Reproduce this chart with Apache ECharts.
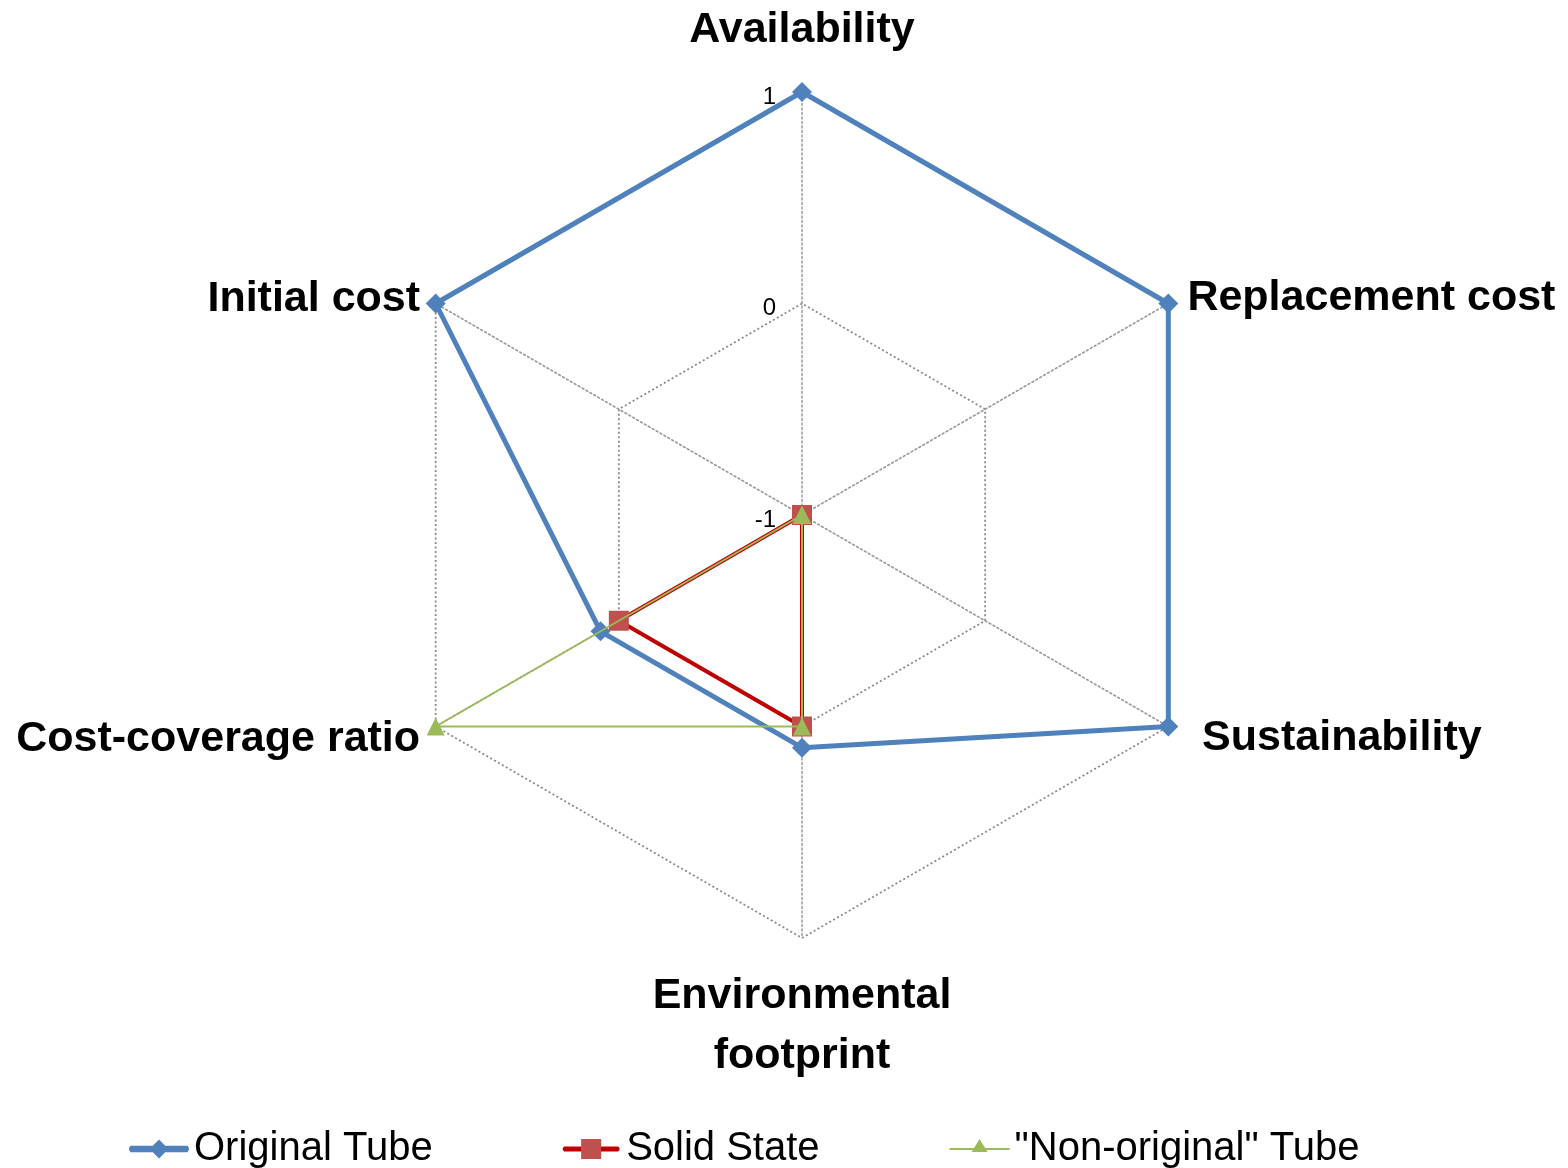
<!DOCTYPE html>
<html><head><meta charset="utf-8">
<script src="https://cdn.jsdelivr.net/npm/echarts@6/dist/echarts.min.js"></script>
<style>html,body{margin:0;padding:0;background:#fff}#c{width:1568px;height:1168px}</style>
</head><body><div id="c"></div>
<script>
// Indicators listed counter-clockwise from the top (ECharts radar order)
const indicatorNames = ['Availability', 'Initial cost', 'Cost-coverage ratio', 'Environmental\nfootprint', 'Sustainability', 'Replacement cost'];
const seriesNames = ['Original Tube', 'Solid State', '"Non-original" Tube'];
const originalTube = [1, 1, 0.1, 0.1, 1, 1];
const solidState = [-1, -1, 0, 0, -1, -1];
const nonOriginalTube = [-1, -1, 1, 0, -1, -1];
const axisMin = -1, axisMax = 1, axisSplit = 2;

const nameGaps = [32, 18, 18, 28, 39, 22];
const nameRich = [null, 'd10', 'd8', null, 'u16', 'd12'];
const nameBase = {fontFamily: 'Liberation Sans', fontWeight: 'bold', fontSize: 43, color: '#000'};
const gridLine = {color: '#888888', type: [2, 2.5], width: 1.8};
const spokeLine = {color: '#9a9a9a', type: [2, 2.5], width: 1.5};

const indicator = indicatorNames.map((n, i) => {
  const o = {name: n, min: axisMin, max: axisMax, nameGap: nameGaps[i]};
  if (i === 0) {
    o.axisLabel = {show: true, fontFamily: 'Liberation Sans', fontSize: 24, color: '#000', margin: 26,
      formatter: v => '{t|' + v + '}',
      rich: {t: {fontFamily: 'Liberation Sans', fontSize: 24, color: '#000', padding: [10, 0, 0, 0]}}};
  }
  return o;
});

const chart = echarts.init(document.getElementById('c'));
chart.setOption({
  animation: false,
  backgroundColor: '#fff',
  radar: {
    center: [802, 515],
    radius: 423,
    shape: 'polygon',
    splitNumber: axisSplit,
    startAngle: 90,
    axisName: Object.assign({}, nameBase, {
      lineHeight: 60,
      formatter: (name) => {
        const k = nameRich[indicatorNames.indexOf(name)];
        return k ? '{' + k + '|' + name + '}' : name;
      },
      rich: {
        d8: Object.assign({}, nameBase, {padding: [8, 0, 0, 0]}),
        d10: Object.assign({}, nameBase, {padding: [10, 0, 0, 0]}),
        d12: Object.assign({}, nameBase, {padding: [12, 0, 0, 0]}),
        u16: Object.assign({}, nameBase, {padding: [0, 0, 16, 0]})
      }
    }),
    nameGap: 20,
    axisLine: {show: true, lineStyle: spokeLine},
    splitLine: {show: true, lineStyle: gridLine},
    splitArea: {show: false},
    axisTick: {show: false},
    axisLabel: {show: false},
    indicator: indicator
  },
  legend: {
    left: 124, top: 1124, itemGap: 130, itemWidth: 60, itemHeight: 20,
    textStyle: {fontFamily: 'Liberation Sans', fontSize: 40, color: '#000'},
    data: [
      {name: seriesNames[0], icon: 'path://M3,7 L57,7 Q60,10 57,13 L3,13 Q0,10 3,7 Z M30,1 L39,10 L30,19 L21,10 Z', itemStyle: {color: '#4F81BD'}},
      {name: seriesNames[1], icon: 'path://M3,7.5 L57,7.5 Q60,10 57,12.5 L3,12.5 Q0,10 3,7.5 Z M20,0 L40,0 L40,20 L20,20 Z', itemStyle: {color: {type: 'linear', x: 0, y: 0, x2: 1, y2: 0, colorStops: [
        {offset: 0, color: '#C00000'}, {offset: 0.33, color: '#C00000'}, {offset: 0.33, color: '#C0504D'},
        {offset: 0.67, color: '#C0504D'}, {offset: 0.67, color: '#C00000'}, {offset: 1, color: '#C00000'}]}}},
      {name: seriesNames[2], icon: 'path://M0,9 L60,9 L60,11 L0,11 Z M30,0 L38,13 L22,13 Z M30,20 L30.01,20 L30,20 Z', itemStyle: {color: '#9BBB59'}}
    ]
  },
  series: [
    {type: 'radar', name: seriesNames[0], symbol: 'diamond', symbolSize: 20, z: 2,
     itemStyle: {color: '#4F81BD'}, lineStyle: {color: '#4F81BD', width: 5},
     data: [{name: seriesNames[0], value: originalTube}]},
    {type: 'radar', name: seriesNames[1], symbol: 'rect', symbolSize: 20, z: 3,
     itemStyle: {color: '#C0504D'}, lineStyle: {color: '#C00000', width: 4},
     data: [{name: seriesNames[1], value: solidState}]},
    {type: 'radar', name: seriesNames[2], symbol: 'triangle', symbolSize: 18, z: 4,
     itemStyle: {color: '#9BBB59'}, lineStyle: {color: '#9BBB59', width: 2},
     data: [{name: seriesNames[2], value: nonOriginalTube}]}
  ]
});
</script></body></html>
